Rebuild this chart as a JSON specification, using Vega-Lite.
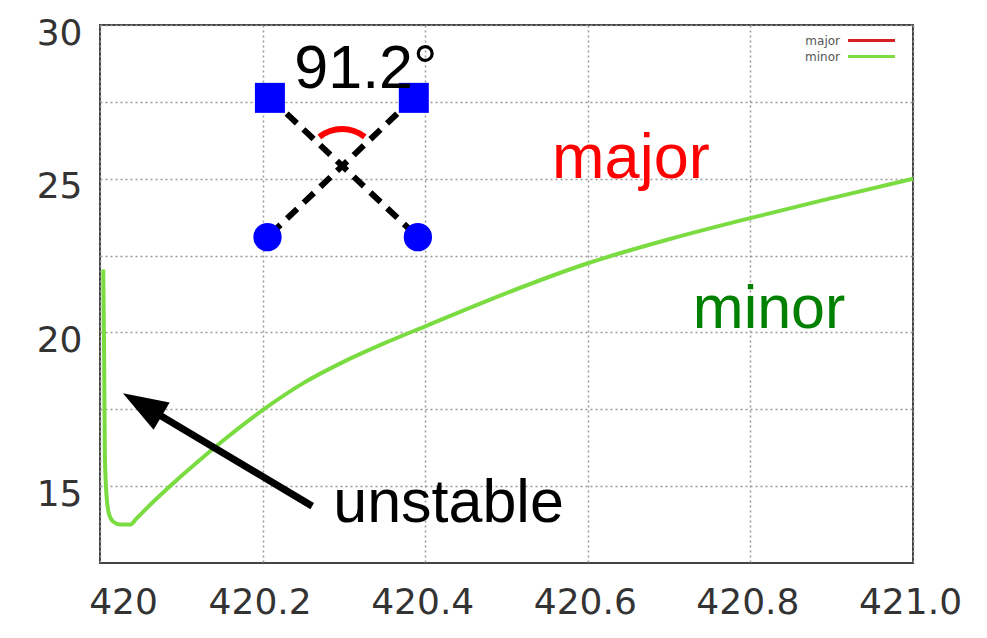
{
  "$schema": "https://vega.github.io/schema/vega-lite/v6.json",
  "width": 813,
  "height": 538,
  "autosize": {"type": "none"},
  "padding": {"left": 100, "top": 25, "right": 74, "bottom": 75},
  "background": "white",
  "config": {
    "view": {"stroke": "#444", "strokeWidth": 2},
    "axis": {
      "labelFont": "DejaVu Sans",
      "labelFontSize": 36,
      "labelColor": "#333",
      "gridColor": "#999",
      "gridDash": [2, 3],
      "gridWidth": 1.5,
      "domain": false,
      "ticks": false,
      "title": null
    },
    "legend": {
      "orient": "none",
      "legendX": 762,
      "legendY": 6,
      "padding": 0,
      "symbolType": "M-3,0H3",
      "symbolSize": 245,
      "symbolStrokeWidth": 3,
      "labelFont": "DejaVu Sans",
      "labelFontSize": 12,
      "labelColor": "#555",
      "labelAlign": "right",
      "labelOffset": -41,
      "rowPadding": 0,
      "title": null
    }
  },
  "datasets": {
    "curve": [
      {"x": 420.004, "y": 22.05, "series": "minor"},
      {"x": 420.005, "y": 19.5, "series": "minor"},
      {"x": 420.006, "y": 16.0, "series": "minor"},
      {"x": 420.008, "y": 14.7, "series": "minor"},
      {"x": 420.011, "y": 14.1, "series": "minor"},
      {"x": 420.016, "y": 13.85, "series": "minor"},
      {"x": 420.025, "y": 13.75, "series": "minor"},
      {"x": 420.037, "y": 13.75, "series": "minor"},
      {"x": 420.045, "y": 13.95, "series": "minor"},
      {"x": 420.06, "y": 14.35, "series": "minor"},
      {"x": 420.08, "y": 14.85, "series": "minor"},
      {"x": 420.1, "y": 15.33, "series": "minor"},
      {"x": 420.125, "y": 15.9, "series": "minor"},
      {"x": 420.15, "y": 16.45, "series": "minor"},
      {"x": 420.2, "y": 17.47, "series": "minor"},
      {"x": 420.25, "y": 18.35, "series": "minor"},
      {"x": 420.3, "y": 19.05, "series": "minor"},
      {"x": 420.35, "y": 19.65, "series": "minor"},
      {"x": 420.4, "y": 20.2, "series": "minor"},
      {"x": 420.5, "y": 21.28, "series": "minor"},
      {"x": 420.6, "y": 22.25, "series": "minor"},
      {"x": 420.7, "y": 23.03, "series": "minor"},
      {"x": 420.8, "y": 23.72, "series": "minor"},
      {"x": 420.9, "y": 24.37, "series": "minor"},
      {"x": 421.0, "y": 25.0, "series": "minor"}
    ],
    "cross": [
      {"x": 420.209, "y": 27.63, "x2": 420.391, "y2": 23.1},
      {"x": 420.386, "y": 27.63, "x2": 420.206, "y2": 23.1}
    ],
    "squares": [
      {"x": 420.209, "y": 27.63},
      {"x": 420.386, "y": 27.63}
    ],
    "circles": [
      {"x": 420.206, "y": 23.1},
      {"x": 420.391, "y": 23.1}
    ],
    "angle": [{"x": 420.2977, "y": 25.41}],
    "arrowShaft": [{"x": 420.261, "y": 14.35, "x2": 420.052, "y2": 17.65}],
    "arrowHead": [{"x": 420.052, "y": 17.65}],
    "blackText": [
      {"x": 420.327, "y": 27.95, "text": "91.2°"},
      {"x": 420.4287, "y": 13.83, "text": "unstable"}
    ],
    "redText": [{"x": 420.653, "y": 25.02, "text": "major"}],
    "greenText": [{"x": 420.823, "y": 20.14, "text": "minor"}]
  },
  "layer": [
    {
      "data": {"name": "curve"},
      "mark": {"type": "line", "strokeWidth": 4, "interpolate": "monotone"},
      "encoding": {
        "x": {
          "field": "x", "type": "quantitative",
          "scale": {"domain": [420, 421], "nice": false, "zero": false},
          "axis": {
            "values": [420, 420.2, 420.4, 420.6, 420.8, 421],
            "labelExpr": "datum.value == 420 ? '420' : format(datum.value, '.1f')",
            "labelPadding": 22,
            "labelFlush": false,
            "labelOverlap": false,
            "labelOffset": {"condition": {"test": "datum.value == 420", "value": 23}, "value": -3}
          }
        },
        "y": {
          "field": "y", "type": "quantitative",
          "scale": {"domain": [12.5, 30], "nice": false, "zero": false},
          "axis": {
            "values": [15, 17.5, 20, 22.5, 25, 27.5, 30],
            "labelExpr": "datum.value % 5 == 0 ? datum.label : ''",
            "labelPadding": 18,
            "labelOffset": 8,
            "labelOverlap": false
          }
        },
        "color": {
          "field": "series", "type": "nominal",
          "scale": {"domain": ["major", "minor"], "range": ["#d42020", "#7adc40"]}
        }
      }
    },
    {
      "data": {"name": "cross"},
      "mark": {"type": "rule", "color": "black", "strokeWidth": 6, "strokeDash": [14, 9]},
      "encoding": {
        "x": {"field": "x", "type": "quantitative"},
        "y": {"field": "y", "type": "quantitative"},
        "x2": {"field": "x2"},
        "y2": {"field": "y2"}
      }
    },
    {
      "data": {"name": "squares"},
      "mark": {"type": "point", "shape": "square", "filled": true, "size": 900, "color": "#0000ff", "opacity": 1},
      "encoding": {
        "x": {"field": "x", "type": "quantitative"},
        "y": {"field": "y", "type": "quantitative"}
      }
    },
    {
      "data": {"name": "circles"},
      "mark": {"type": "circle", "size": 800, "color": "#0000ff", "opacity": 1},
      "encoding": {
        "x": {"field": "x", "type": "quantitative"},
        "y": {"field": "y", "type": "quantitative"}
      }
    },
    {
      "data": {"name": "angle"},
      "mark": {"type": "arc", "theta": -0.66, "theta2": 0.66, "innerRadius": 34, "outerRadius": 40, "color": "#ff0000"},
      "encoding": {
        "x": {"field": "x", "type": "quantitative"},
        "y": {"field": "y", "type": "quantitative"}
      }
    },
    {
      "data": {"name": "arrowShaft"},
      "mark": {"type": "rule", "color": "black", "strokeWidth": 7},
      "encoding": {
        "x": {"field": "x", "type": "quantitative"},
        "y": {"field": "y", "type": "quantitative"},
        "x2": {"field": "x2"},
        "y2": {"field": "y2"}
      }
    },
    {
      "data": {"name": "arrowHead"},
      "mark": {"type": "point", "shape": "M0,-1L0.7,1L-0.7,1Z", "filled": true, "size": 2025, "angle": 300.7, "color": "black", "opacity": 1},
      "encoding": {
        "x": {"field": "x", "type": "quantitative"},
        "y": {"field": "y", "type": "quantitative"}
      }
    },
    {
      "data": {"name": "blackText"},
      "mark": {"type": "text", "font": "Liberation Sans", "fontSize": 61, "align": "center", "baseline": "alphabetic", "color": "black"},
      "encoding": {
        "x": {"field": "x", "type": "quantitative"},
        "y": {"field": "y", "type": "quantitative"},
        "text": {"field": "text"}
      }
    },
    {
      "data": {"name": "redText"},
      "mark": {"type": "text", "font": "Liberation Sans", "fontSize": 63, "align": "center", "baseline": "alphabetic", "color": "#ff0000"},
      "encoding": {
        "x": {"field": "x", "type": "quantitative"},
        "y": {"field": "y", "type": "quantitative"},
        "text": {"field": "text"}
      }
    },
    {
      "data": {"name": "greenText"},
      "mark": {"type": "text", "font": "Liberation Sans", "fontSize": 61, "align": "center", "baseline": "alphabetic", "color": "#008000"},
      "encoding": {
        "x": {"field": "x", "type": "quantitative"},
        "y": {"field": "y", "type": "quantitative"},
        "text": {"field": "text"}
      }
    }
  ]
}
